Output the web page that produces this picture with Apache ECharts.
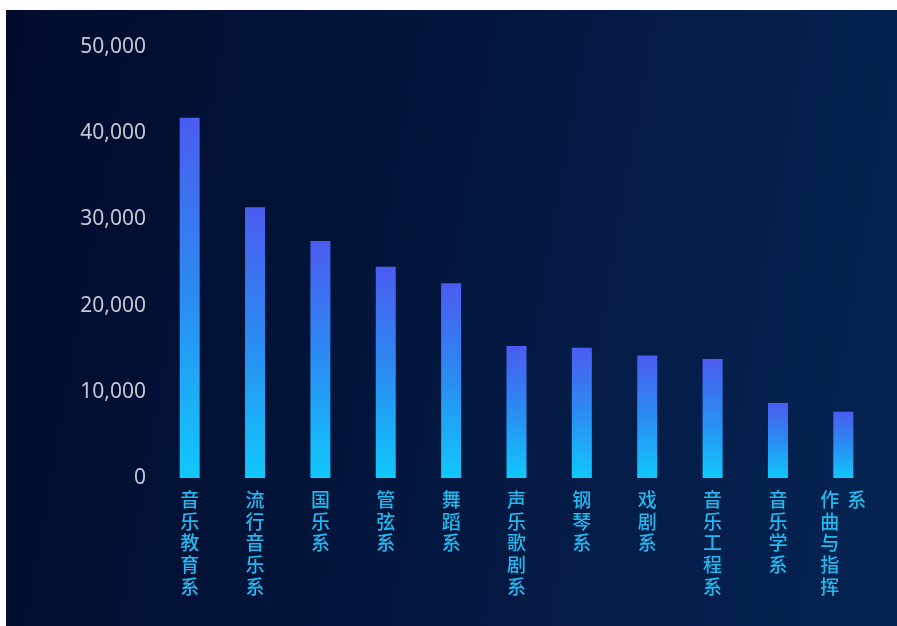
<!DOCTYPE html>
<html>
<head>
<meta charset="utf-8">
<script src="https://cdn.jsdelivr.net/npm/echarts@6/dist/echarts.min.js"></script>
<style>
html,body{margin:0;padding:0;background:#ffffff;width:897px;height:626px;overflow:hidden;}
#chart{position:absolute;left:6px;top:10px;width:891px;height:616px;
background:linear-gradient(100deg,#010c2d 0%,#02143a 40%,#041e4b 75%,#052452 100%);}
</style>
</head>
<body>
<div id="chart"></div>
<script>
const categories = ['音乐教育系','流行音乐系','国乐系','管弦系','舞蹈系','声乐歌剧系','钢琴系','戏剧系','音乐工程系','音乐学系','作曲与指挥系'];
const values = [41800, 31400, 27500, 24500, 22600, 15300, 15100, 14200, 13800, 8700, 7700];
const yTicks = { min: 0, max: 50000, interval: 10000 };

function verticalLabel(name) {
  const chars = name.split('');
  const cols = [];
  for (let i = 0; i < chars.length; i += 5) cols.push(chars.slice(i, i + 5));
  const lines = [];
  for (let r = 0; r < cols[0].length; r++) {
    const parts = [];
    cols.forEach((c, ci) => {
      if (c[r]) parts.push((ci > 0 ? '{gap|}' : '') + '{c|' + c[r] + '}');
    });
    lines.push(parts.join(''));
  }
  return lines.join('\n');
}

const chart = echarts.init(document.getElementById('chart'));
chart.setOption({
  backgroundColor: 'transparent',
  animation: false,
  grid: { left: 151, right: 21, top: 37, bottom: 148, containLabel: false },
  xAxis: {
    type: 'category',
    data: categories,
    axisLine: { show: false },
    axisTick: { show: false },
    axisLabel: {
      interval: 0,
      margin: 11,
      formatter: verticalLabel,
      rich: {
        c: { color: '#22b8ee', fontSize: 19, fontWeight: 500, lineHeight: 21.7, align: 'left', fontFamily: 'Noto Sans CJK SC' },
        gap: { width: 8, align: 'left' }
      }
    }
  },
  yAxis: {
    type: 'value',
    min: yTicks.min, max: yTicks.max, interval: yTicks.interval,
    axisLine: { show: false },
    axisTick: { show: false },
    splitLine: { show: false },
    axisLabel: {
      margin: 11,
      color: '#c3c9d3',
      fontSize: 21,
      fontFamily: 'Noto Sans, sans-serif',
      formatter: v => v.toLocaleString('en-US')
    }
  },
  series: [{
    type: 'bar',
    data: values,
    barWidth: 20,
    itemStyle: {
      color: new echarts.graphic.LinearGradient(0, 0, 0, 1, [
        { offset: 0, color: '#4b5cf0' },
        { offset: 0.5, color: '#2a8cf2' },
        { offset: 1, color: '#10c8fb' }
      ])
    }
  }]
});
</script>
</body>
</html>
